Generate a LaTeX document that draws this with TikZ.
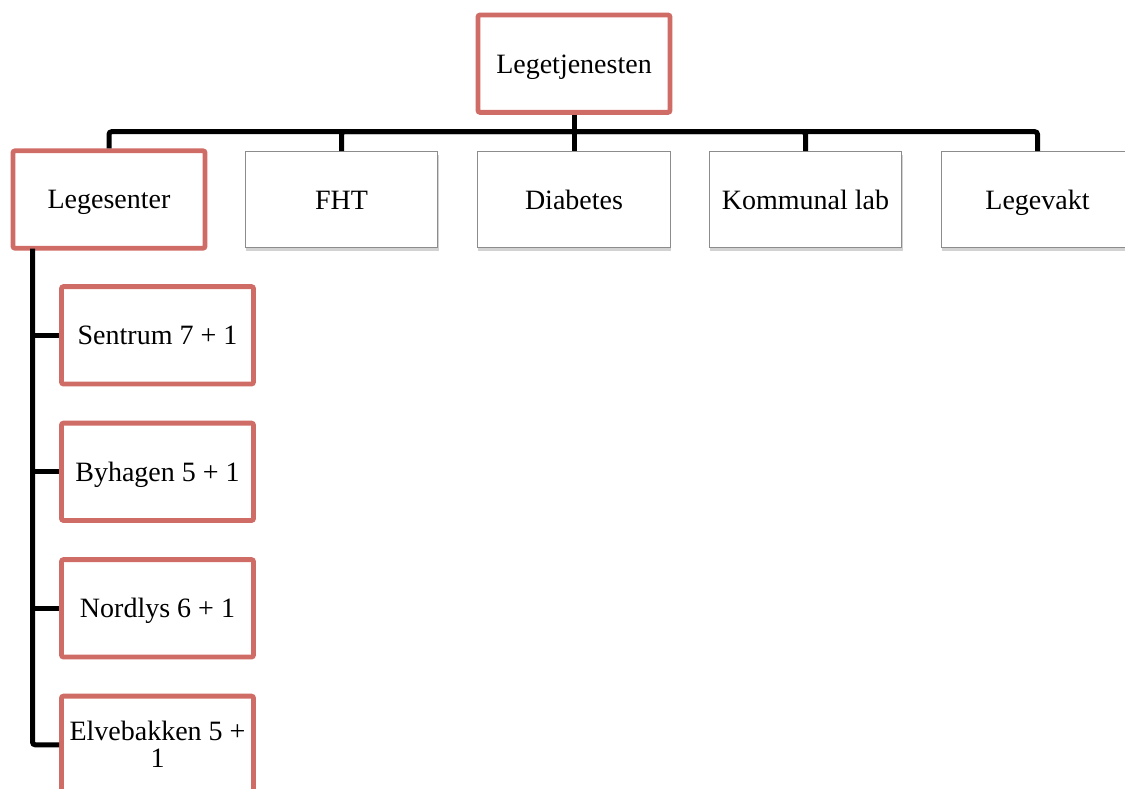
\documentclass[tikz,border=0pt]{standalone}
\usepackage{fontspec}
\setmainfont{Liberation Serif}
\usepackage{tikz}
\usetikzlibrary{shadows}

\definecolor{boxred}{RGB}{208,108,102}

\tikzset{
    redbox/.style={draw=boxred, line width=3.6pt, rounded corners=1.5pt, fill=white,
        minimum width=144pt, minimum height=73pt, align=center, text height=14pt, text depth=0pt,
        font=\fontsize{21}{20}\selectfont},
    graybox/.style={draw=black!45, line width=0.9pt, fill=white,
        drop shadow={shadow xshift=0.6pt, shadow yshift=-2.2pt, opacity=0.35},
        minimum width=144.5pt, minimum height=72pt, align=center, text height=14pt, text depth=0pt,
        font=\fontsize{21}{20}\selectfont},
    link/.style={line width=3.75pt, rounded corners=2pt}
}

\begin{document}
\begin{tikzpicture}[x=0.75pt, y=-0.75pt]
    % page frame
    \clip (0, 0) rectangle (1125, 789);
    \fill[white] (0, 0) rectangle (1125, 789);

    % draw top box
    \node[redbox] (top) at (574, 63.7) {Legetjenesten};

    % draw second row
    \node[redbox] (legesenter) at (109, 199.5) {Legesenter};
    \node[graybox] (fht) at (341.5, 199.7) {FHT};
    \node[graybox] (diabetes) at (574, 199.7) {Diabetes};
    \node[graybox] (lab) at (805.5, 199.7) {Kommunal lab};
    \node[graybox] (legevakt) at (1037.5, 199.7) {Legevakt};

    % draw sub boxes under Legesenter
    \node[redbox] (sentrum) at (157.5, 335.3) {Sentrum 7 + 1};
    \node[redbox] (byhagen) at (157.5, 471.8) {Byhagen 5 + 1};
    \node[redbox] (nordlys) at (157.5, 608.3) {Nordlys 6 + 1};
    \node[redbox, text height=34pt] (elvebakken) at (157.5, 744.8) {Elvebakken 5 +\\1};

    % draw bus lines
    \coordinate (bus) at (574, 131.7);
    \draw[link] (top.south) -- (bus);
    \foreach \n in {legesenter, fht, diabetes, lab, legevakt}
        \draw[link] (bus) -| (\n.north);

    % draw spine on the left
    \coordinate (spine) at (32.5, 248.5);
    \draw[link] (spine) |- (elvebakken.west);
    \foreach \n in {sentrum, byhagen, nordlys}
        \draw[link] (spine |- \n.west) -- (\n.west);

\end{tikzpicture}
\end{document}
